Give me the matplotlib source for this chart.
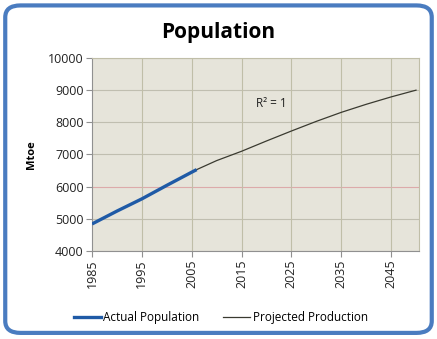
import matplotlib
matplotlib.use("Agg")
import matplotlib.pyplot as plt
from matplotlib.patches import FancyBboxPatch
from matplotlib.lines import Line2D

# Data
actual_years = [1985, 1990, 1995, 2000, 2005, 2006]
actual_pop = [4840, 5240, 5620, 6040, 6450, 6530]
proj_years = [2006, 2010, 2015, 2020, 2025, 2030, 2035, 2040, 2045, 2050]
proj_pop = [6530, 6810, 7100, 7420, 7730, 8030, 8310, 8560, 8790, 9000]
xtick_years = [1985, 1995, 2005, 2015, 2025, 2035, 2045]
ytick_vals = [4000, 5000, 6000, 7000, 8000, 9000, 10000]

plt.rcParams['font.family'] = ['Open Sans', 'DejaVu Sans']

fig = plt.figure(figsize=(4.37, 3.39), dpi=100)
fig.patch.set_facecolor('white')

# rounded blue border
border = FancyBboxPatch((0.012, 0.018), 0.976, 0.966,
                        boxstyle="round,pad=0,rounding_size=0.035",
                        transform=fig.transFigure, facecolor='none',
                        edgecolor='#4a7cc0', linewidth=3.0, zorder=0)
fig.patches.append(border)

ax = fig.add_axes([0.2105, 0.2596, 0.7483, 0.5693])
ax.set_facecolor('#e6e4da')

ax.plot(proj_years, proj_pop, color='#3a3a30', linewidth=0.9, zorder=3)
ax.plot(actual_years, actual_pop, color='#1f5aa6', linewidth=2.4, zorder=4,
        solid_capstyle='butt')

ax.set_xlim(1985, 2050.6)
ax.set_ylim(4000, 10000)
ax.set_xticks(xtick_years)
ax.set_xticklabels([str(y) for y in xtick_years], rotation=90, fontsize=9, color='#222222')
ax.set_yticks(ytick_vals)
ax.set_yticklabels([str(v) for v in ytick_vals], fontsize=9, color='#222222')

for v in ytick_vals:
    c = '#dcaaaa' if v == 6000 else '#c0beb0'
    ax.axhline(v, color=c, linewidth=0.8, zorder=1)
for y in xtick_years[1:]:
    ax.axvline(y, color='#c0bea8', linewidth=0.8, zorder=1)

for s in ['top', 'right']:
    ax.spines[s].set_color('#c0bea8')
    ax.spines[s].set_linewidth(0.8)
for s in ['left', 'bottom']:
    ax.spines[s].set_color('#909090')
    ax.spines[s].set_linewidth(0.8)
ax.tick_params(axis='both', length=4, color='#909090', width=0.8, pad=2)

ax.set_ylabel('Mtoe', fontsize=8, fontweight='bold', labelpad=8)

ax.text(2018, 8600, 'R² = 1', fontsize=8.5, color='#222222', zorder=5,
        ha='left', va='center')

fig.text(0.5, 0.905, 'Population', ha='center', va='center', fontsize=15,
         fontweight='bold', color='black')

handles = [Line2D([], [], color='#1f5aa6', linewidth=2.4),
           Line2D([], [], color='#3a3a30', linewidth=0.9)]
fig.legend(handles, ['Actual Population', 'Projected Production'],
           loc='center', bbox_to_anchor=(0.505, 0.062), ncol=2, frameon=False,
           fontsize=8.5, handlelength=2.3, handletextpad=0.2, columnspacing=2.0)

fig.savefig('out.png', dpi=100, facecolor='white')
